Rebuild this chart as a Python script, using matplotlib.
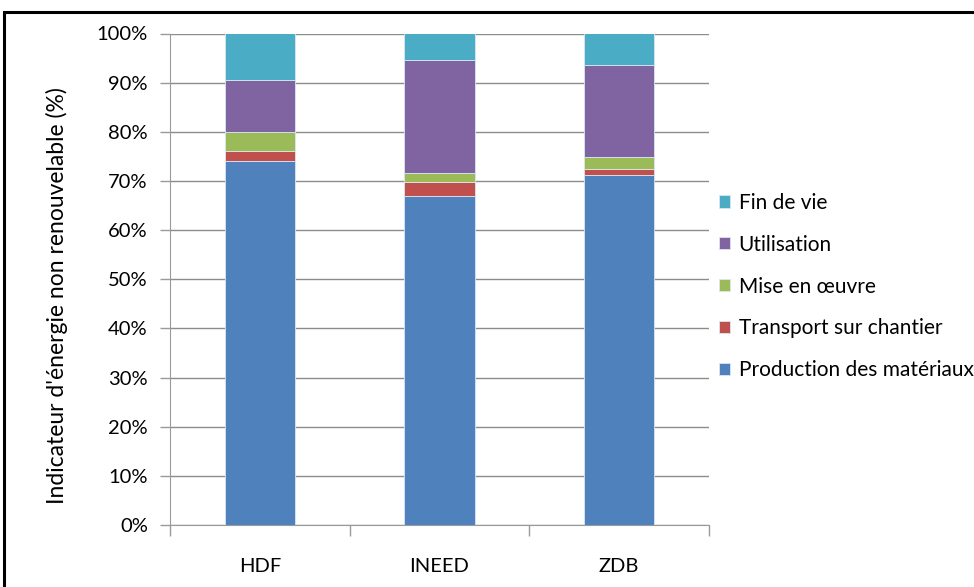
import matplotlib
matplotlib.use("Agg")
import matplotlib.pyplot as plt
import numpy as np
from matplotlib.patches import Rectangle
from matplotlib.ticker import PercentFormatter

# data (% of total non-renewable energy)
sites = ["HDF", "INEED", "ZDB"]
production = [74.0, 67.0, 71.3]
transport = [2.1, 2.8, 1.1]
mise = [3.9, 1.9, 2.4]
utilisation = [10.6, 23.0, 18.7]
fin_vie = [9.4, 5.3, 6.5]

series = [
    ("Production des matériaux", production, "#4F81BD"),
    ("Transport sur chantier", transport, "#C0504D"),
    ("Mise en œuvre", mise, "#9BBB59"),
    ("Utilisation", utilisation, "#8064A2"),
    ("Fin de vie", fin_vie, "#4BACC6"),
]

plt.rcParams['font.family'] = ['Lato', 'DejaVu Sans']
W, H = 974, 587
fig = plt.figure(figsize=(W / 100, H / 100), dpi=100)
ax = fig.add_axes([170 / W, 1 - 525 / H, (709 - 170) / W, (525 - 33.5) / H])

x = np.arange(len(sites))
bottom = np.zeros(len(sites))
handles = []
for name, vals, col in series:
    b = ax.bar(x, vals, 0.39, bottom=bottom, color=col, edgecolor="#dce6f2",
               linewidth=0.6, label=name, zorder=3)
    handles.append(b)
    bottom += np.array(vals)

ax.set_xlim(-0.5, 2.5)
ax.set_ylim(0, 100)
ax.set_yticks(np.arange(0, 101, 10))
ax.yaxis.set_major_formatter(PercentFormatter(decimals=0))
ax.grid(axis="y", color="#8c8c8c", linewidth=1.0, zorder=0)
ax.set_axisbelow(True)

ax.set_xticks([-0.5, 0.5, 1.5, 2.5], minor=False)
ax.set_xticklabels([])
ax.set_xticks(x, minor=True)
ax.set_xticklabels(sites, minor=True)
ax.tick_params(axis="x", which="major", direction="out", length=8, color="#9a9a9a", width=1)
ax.tick_params(axis="x", which="minor", length=0, pad=24, labelsize=14.5)
ax.tick_params(axis="y", direction="out", length=7, color="#9a9a9a", width=1, pad=9, labelsize=14.5)

for s in ["top", "right"]:
    ax.spines[s].set_visible(False)
ax.spines["left"].set_color("#9a9a9a")
ax.spines["bottom"].set_color("#9a9a9a")

fig.text(57 / W, 1 - 296 / H, "Indicateur d'énergie non renouvelable (%)",
         rotation=90, ha="center", va="center", fontsize=16.5)

leg = fig.legend(handles[::-1], [s[0] for s in series][::-1],
                 loc="upper left", bbox_to_anchor=(711 / W, 1 - 184.5 / H),
                 frameon=False, fontsize=15, handlelength=0.53, handleheight=0.53,
                 handletextpad=0.4, labelspacing=1.05, borderaxespad=0)

# outer black frame (only top and left visible)
fig.add_artist(Rectangle((3.5 / W, -0.1), 1.2, 1 - 11.5 / H + 0.1, transform=fig.transFigure,
                         fill=False, edgecolor="black", linewidth=2.2))

fig.savefig("out.png", dpi=100)
